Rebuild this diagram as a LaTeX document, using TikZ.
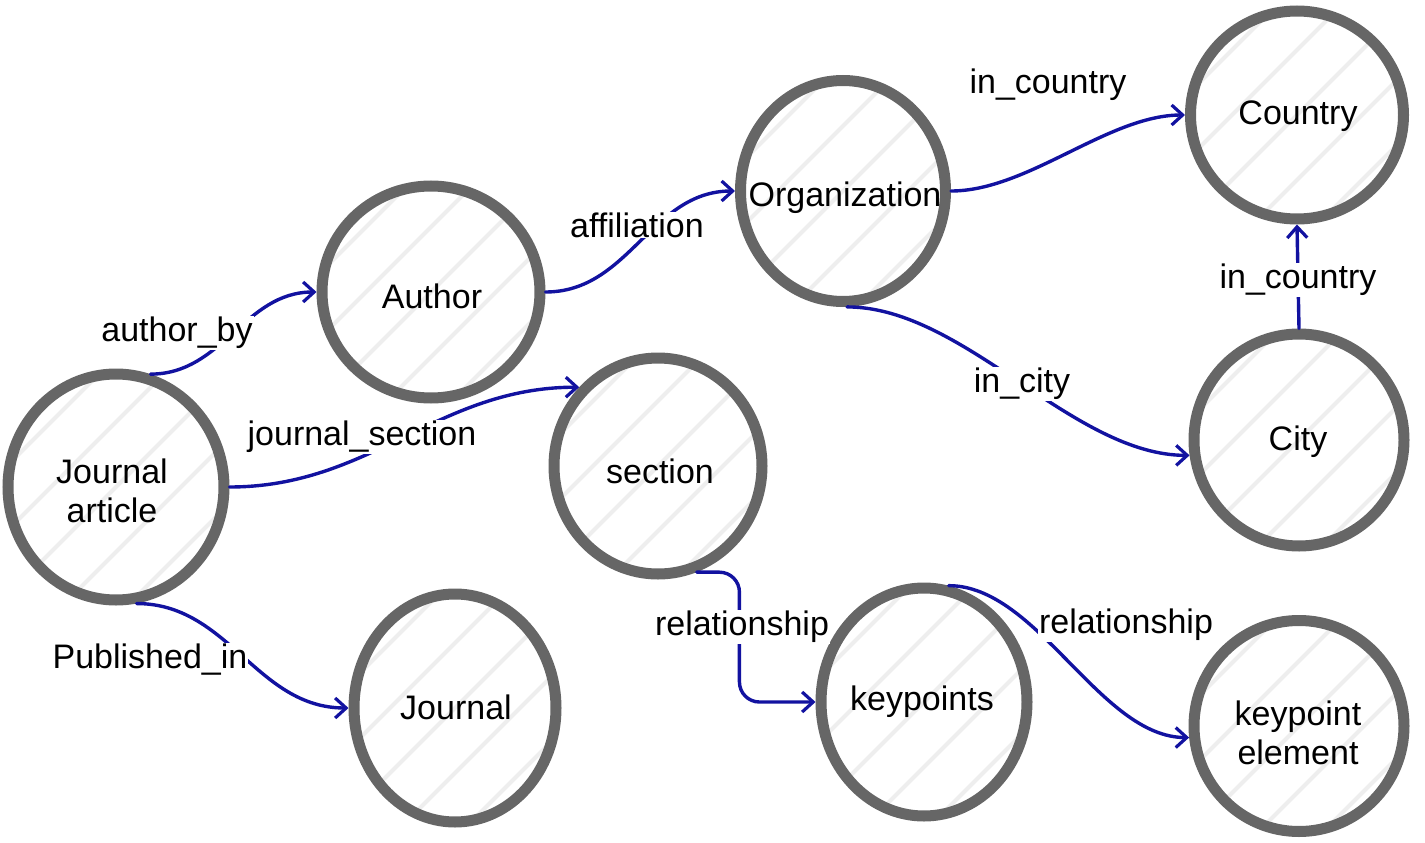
\documentclass[tikz,border=0pt]{standalone}
\usepackage{fontspec}
\setmainfont{Liberation Sans}
\usetikzlibrary{shapes.geometric,arrows.meta,calc}
\definecolor{ring}{RGB}{102,102,102}
\definecolor{edgeblue}{RGB}{18,18,160}
\definecolor{hatchgray}{RGB}{238,238,238}
\begin{document}
\begin{tikzpicture}[x=1pt,y=-1pt,
  ent/.style={ellipse, draw=ring, line width=11pt, inner sep=0pt,
    path picture={\foreach \k in {-3,...,3}
      {\draw[hatchgray, line width=4pt, line cap=round, shift={(path picture bounding box.center)}]
        (\k*65pt-200pt,-200pt) -- ++(400pt,400pt);}}},
  txt/.style={align=center, font=\fontsize{34}{39}\selectfont},
  rel/.style={draw=edgeblue, line width=3.4pt, line cap=round,
    -{Straight Barb[length=11pt,width=20pt,line width=3.2pt]}},
  lab/.style={fill=white, inner sep=1pt, font=\fontsize{34}{39}\selectfont}]
\useasboundingbox (0,0) rectangle (1425,843);
% entities
\node[ent, minimum width=216pt, minimum height=226pt] (ja) at (116,487) {};
\node[ent, minimum width=218pt, minimum height=212pt] (au) at (431,292) {};
\node[ent, minimum width=202pt, minimum height=228pt] (jo) at (455,708) {};
\node[ent, minimum width=208pt, minimum height=216pt] (sec) at (658,466) {};
\node[ent, minimum width=205pt, minimum height=221pt] (org) at (843,191) {};
\node[ent, minimum width=213pt, minimum height=208pt] (co) at (1297,115) {};
\node[ent, minimum width=210pt, minimum height=212pt] (ci) at (1299,440) {};
\node[ent, minimum width=206pt, minimum height=228pt] (kp) at (924,702) {};
\node[ent, minimum width=210pt, minimum height=211pt] (ke) at (1299,726) {};
\node[txt] (tja) at (112,491) {Journal\\article};
\node[txt] (tau) at (432,296) {Author};
\node[txt] (tjo) at (456,707) {Journal};
\node[txt] (tsec) at (660,471) {section};
\node[txt] (torg) at (845,198) {Organization};
\node[txt] (tco) at (1298,116) {Country};
\node[txt] (tci) at (1298,442) {City};
\node[txt] (tkp) at (922,702) {keypoints};
\node[txt] (tke) at (1298,733) {keypoint\\element};
% relations
\draw[rel] (ja.73) to[out=0,in=180] (au.west);
\draw[rel] (ja.east) to[out=0,in=180] (sec.135);
\draw[rel] (ja.-80) to[out=0,in=180] (jo.west);
\draw[rel] (au.east) to[out=0,in=180] (org.west);
\draw[rel] (org.east) to[out=0,in=180,looseness=0.8] (co.west);
\draw[rel] (org.-88) to[out=0,in=180,looseness=0.8] (ci.188);
\draw[rel] (ci.north) -- (co.south);
\draw[rel, rounded corners=20pt] (sec.-70) -| ($(sec.-70)!0.36!(kp.west)$) |- (kp.west);
\draw[rel] (kp.78) to[out=0,in=180,looseness=0.8] (ke.186);
% labels
\node[lab] (l1) at (177,333) {author\_by};
\node[lab] (l2) at (362,437) {journal\_section};
\node[lab] (l3) at (150,660) {Published\_in};
\node[lab] (l4) at (637,225) {affiliation};
\node[lab] (l5) at (1048,85) {in\_country};
\node[lab] (l6) at (1022,384) {in\_city};
\node[lab] (l7) at (1298,280) {in\_country};
\node[lab] (l8) at (742,627) {relationship};
\node[lab] (l9) at (1126,625) {relationship};
\end{tikzpicture}
\end{document}
